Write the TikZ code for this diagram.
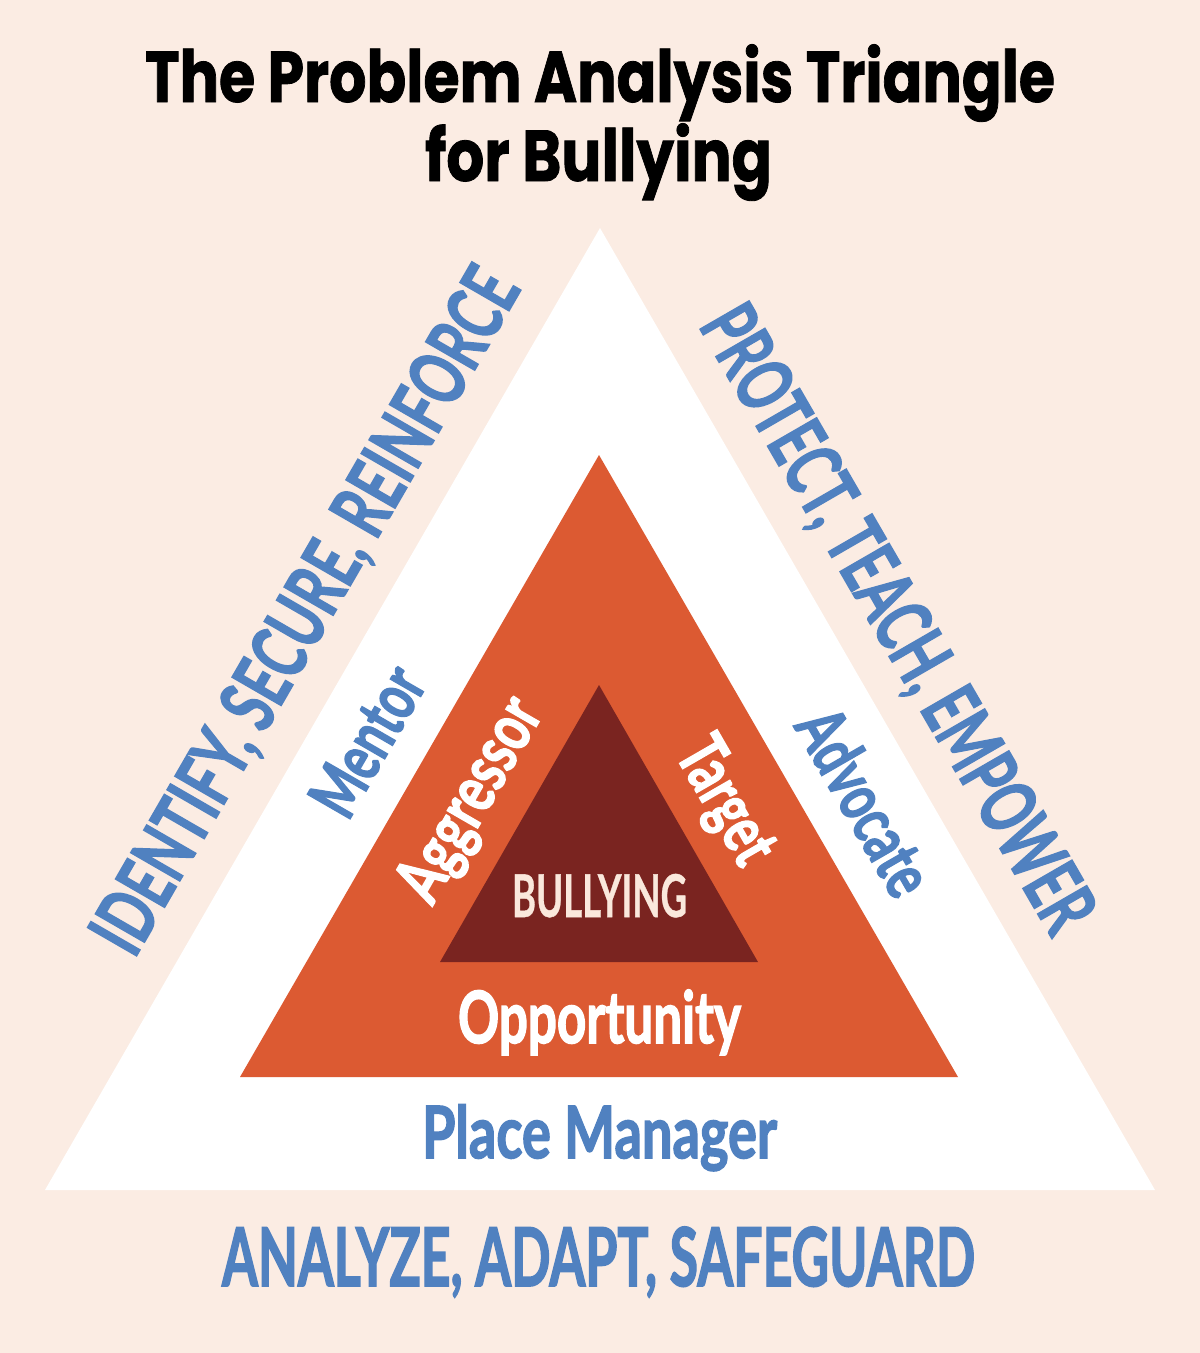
\documentclass[tikz,border=0pt]{standalone}
\usepackage{fontspec}
\usepackage{graphicx}
\newfontfamily\titlefont{Poppins}[BoldFeatures={FakeBold=1.2}]
\newfontfamily\lblfont{Lato}[BoldFeatures={FakeBold=2.2}]
\newfontfamily\bulfont{Lato}[BoldFeatures={FakeBold=0.8}]
\definecolor{bgc}{HTML}{FBECE3}
\definecolor{orng}{HTML}{DC5A32}
\definecolor{dred}{HTML}{7A2420}
\definecolor{blu}{HTML}{5081C0}
\definecolor{crm}{HTML}{FAE8DC}
\newcommand\fitw[3]{\resizebox{#2pt}{\height}{\fontsize{#1}{#1}\selectfont #3}}
\tikzset{
  lbl/.style={anchor=base, inner sep=0pt, font=\lblfont\bfseries},
  ttl/.style={anchor=base, inner sep=0pt, font=\titlefont\bfseries, text=black},
  bluetxt/.style={lbl, text=blu},
  whitetxt/.style={lbl, text=white},
}
\begin{document}
\begin{tikzpicture}[x=1pt,y=-1pt]
\fill[bgc] (0,0) rectangle (1200,1353);
\useasboundingbox (0,0) rectangle (1200,1353);
% triangles
\coordinate (oA) at (600,228);
\coordinate (oL) at (45,1190);
\coordinate (oR) at (1155,1190);
\coordinate (mA) at (599,455);
\coordinate (mL) at (240,1077);
\coordinate (mR) at (958,1077);
\coordinate (iA) at (599,685);
\coordinate (iL) at (440,962);
\coordinate (iR) at (758,962);
\fill[white] (oL) -- (oA) -- (oR) -- cycle;
\fill[orng] (mL) -- (mA) -- (mR) -- cycle;
\fill[dred] (iL) -- (iA) -- (iR) -- cycle;
% title
\node[ttl] (t1) at (600,102) {\fitw{72}{910}{The Problem Analysis Triangle}};
\node[ttl] (t2) at (598.5,181) {\fitw{72}{347}{for Bullying}};
% bottom texts
\node[bluetxt] (bot) at (598.5,1286) {\fitw{81}{753}{ANALYZE, ADAPT, SAFEGUARD}};
\node[bluetxt] (pm) at (599.5,1158) {\fitw{72}{355}{Place Manager}};
\node[whitetxt] (opp) at (599.5,1043) {\fitw{72}{283}{Opportunity}};
\node[lbl, font=\bulfont\bfseries, text=crm] (bul) at (599.5,917) {\fitw{59}{175}{BULLYING}};
% left side
\node[whitetxt, rotate=60] (agg) at (488,810) {\fitw{68}{223}{Aggressor}};
\node[bluetxt, rotate=60] (men) at (388,753) {\fitw{68}{160}{Mentor}};
\node[bluetxt, rotate=60] (idn) at (328,624) {\fitw{78}{775}{IDENTIFY, SECURE, REINFORCE}};
% right side
\node[whitetxt, rotate=-60] (tgt) at (707.5,811.5) {\fitw{68}{134}{Target}};
\node[bluetxt, rotate=-60] (adv) at (844,814) {\fitw{68}{203}{Advocate}};
\node[bluetxt, rotate=-60] (pro) at (875,632) {\fitw{78}{708}{PROTECT, TEACH, EMPOWER}};
\end{tikzpicture}
\end{document}
